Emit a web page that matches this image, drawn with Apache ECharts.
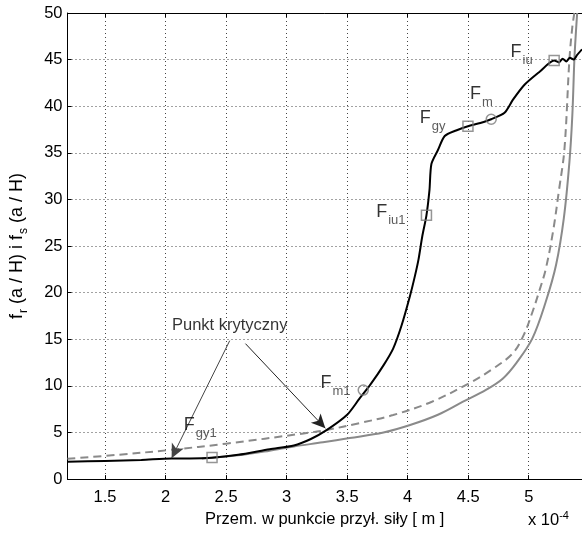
<!DOCTYPE html>
<html>
<head>
<meta charset="utf-8">
<script src="https://cdn.jsdelivr.net/npm/echarts@6/dist/echarts.min.js"></script>
<style>
  html, body { margin: 0; padding: 0; background: #fff; }
  #main { width: 582px; height: 533px; }
</style>
</head>
<body>
<div id="main"></div>
<script>
// x in units of 1e-4 m
let xTicks = [1.5, 2, 2.5, 3, 3.5, 4, 4.5, 5];

// measured curve (black)
let measured = [
  [1.19, 1.85], [1.5, 1.95], [1.8, 2.05], [2.05, 2.22], [2.2, 2.22], [2.38, 2.28],
  [2.6, 2.6], [2.86, 3.2], [3.06, 3.6], [3.2, 4.3], [3.33, 5.25], [3.5, 6.9],
  [3.6, 8.6], [3.69, 10.1], [3.8, 12.2], [3.88, 14.0], [3.95, 16.5], [4.02, 19.7],
  [4.06, 21.8], [4.09, 23.6], [4.12, 26], [4.155, 28.3], [4.18, 31], [4.196, 33.8],
  [4.25, 35.3], [4.306, 36.8], [4.4, 37.4], [4.498, 37.85], [4.6, 38.2], [4.69, 38.6],
  [4.8, 39.3], [4.87, 40.7], [4.965, 42.3], [5.09, 43.7], [5.21, 44.9], [5.25, 44.7],
  [5.28, 45.1], [5.31, 44.8], [5.34, 45.2], [5.37, 45.0], [5.40, 45.5], [5.44, 46.1]
];

// f_r (gray solid)
let fr = [
  [2.3, 2.2], [2.6, 2.55], [2.86, 3.05], [3.06, 3.5], [3.3, 3.95], [3.52, 4.4],
  [3.8, 5.0], [4.02, 5.8], [4.25, 6.9], [4.457, 8.3], [4.65, 9.6], [4.787, 10.8],
  [4.9, 12.5], [5.03, 15.1], [5.14, 19], [5.226, 23], [5.29, 28], [5.336, 34],
  [5.36, 39], [5.377, 45], [5.39, 48], [5.40, 50]
];

// f_s (gray dashed)
let fs = [
  [1.19, 2.17], [1.6, 2.6], [2.04, 3.13], [2.5, 3.8], [3.14, 4.9], [3.33, 5.27],
  [3.6, 6.0], [3.88, 6.87], [4.2, 8.3], [4.51, 10.3], [4.7, 11.8], [4.869, 13.5],
  [4.96, 15.5], [5.03, 17.9], [5.09, 20.3], [5.14, 22.5], [5.2, 26.5], [5.25, 31],
  [5.295, 35.4], [5.336, 45], [5.36, 48.5], [5.377, 50]
];

// characteristic points
let squarePts = [[2.384, 2.32], [4.155, 28.3], [4.498, 37.85], [5.21, 44.9]];
let circlePts = [[3.633, 9.55], [4.69, 38.6]];

// point labels: [x, y, subscript]
let pointLabels = [
  [2.15, 5.77, 'gy1'], [3.28, 10.26, 'm1'], [3.74, 28.6, 'iu1'],
  [4.10, 38.7, 'gy'], [4.515, 41.3, 'm'], [4.85, 45.8, 'iu']
];

let noteText = 'Punkt krytyczny';
let notePos = [2.53, 16.45];
let arrows = [
  [[2.53, 14.85], [2.05, 2.25]],
  [[2.66, 14.53], [3.32, 5.45]]
];

let font = 'Liberation Sans, Arial, sans-serif';
let fsz = 16.5;
let chart = echarts.init(document.getElementById('main'));

let gridLine = { show: true, lineStyle: { color: '#444', type: [1, 3], width: 1 } };

let option = {
  animation: false,
  textStyle: { fontFamily: font },
  grid: { left: 63, top: 13, right: 0, bottom: 52, containLabel: false },
  xAxis: [{
    type: 'value', min: 1.19, max: 5.44, position: 'bottom',
    axisLine: { lineStyle: { color: '#000', width: 1 } },
    axisTick: { inside: true, length: 4, customValues: xTicks, lineStyle: { color: '#000' } },
    axisLabel: { customValues: xTicks, color: '#000', fontSize: fsz, margin: 10, fontFamily: font },
    splitLine: gridLine,
    name: 'Przem. w punkcie przył. siły [ m ]',
    nameLocation: 'middle', nameGap: 22,
    nameTextStyle: { color: '#000', fontSize: fsz, fontFamily: font }
  }, {
    type: 'value', min: 1.19, max: 5.44, position: 'top',
    axisLine: { show: true, lineStyle: { color: '#000', width: 1 } },
    axisTick: { inside: true, length: 4, customValues: xTicks, lineStyle: { color: '#000' } },
    axisLabel: { show: false },
    splitLine: { show: false }
  }],
  yAxis: {
    type: 'value', min: 0, max: 50, interval: 5,
    axisLine: { show: true, lineStyle: { color: '#000', width: 1 } },
    axisTick: { show: true, inside: true, length: 4, lineStyle: { color: '#000' } },
    axisLabel: { color: '#000', fontSize: fsz, margin: 5, fontFamily: font },
    splitLine: gridLine,
    name: '{n|f}{s|r}{n| (a / H) i }{n|f}{s|s}{n| (a / H)}',
    nameLocation: 'middle', nameRotate: 90, nameGap: 38,
    nameTextStyle: {
      color: '#000', fontFamily: font,
      rich: {
        n: { fontSize: 18, color: '#000', fontFamily: font },
        s: { fontSize: 12, color: '#000', fontFamily: font, padding: [13, 0, 0, 1] }
      }
    }
  },
  graphic: [{
    type: 'text', left: 528, top: 510,
    style: {
      text: '{n|x 10}{p|-4}',
      rich: {
        n: { fontSize: fsz, fill: '#000', fontFamily: font },
        p: { fontSize: 11, fill: '#000', fontFamily: font, padding: [0, 0, 10, 0] }
      }
    }
  }],
  series: [
    {
      type: 'line', data: fr, showSymbol: false, clip: true, z: 2,
      smooth: 0.35,
      lineStyle: { color: '#8a8a8a', width: 2 }
    },
    {
      type: 'line', data: fs, showSymbol: false, clip: true, z: 2,
      smooth: 0.35,
      lineStyle: { color: '#8a8a8a', width: 2, type: [8, 5] }
    },
    {
      type: 'line', data: measured, showSymbol: false, clip: true, z: 3,
      smooth: 0.25,
      lineStyle: { color: '#000', width: 2 }
    },
    {
      type: 'scatter', data: squarePts, symbol: 'rect', symbolSize: 10, z: 4,
      itemStyle: { color: 'rgba(0,0,0,0)', borderColor: '#7a7a7a', borderWidth: 1.5 }
    },
    {
      type: 'scatter', data: circlePts, symbol: 'circle', symbolSize: 10, z: 4,
      itemStyle: { color: 'rgba(0,0,0,0)', borderColor: '#7a7a7a', borderWidth: 1.5 }
    },
    {
      type: 'scatter', symbolSize: 0, z: 5, silent: true,
      data: pointLabels.map(p => ({ value: [p[0], p[1]], sub: p[2] })),
      label: {
        show: true, position: 'inside', align: 'left',
        formatter: p => '{F|F}{s|' + p.data.sub + '}',
        rich: {
          F: { fontSize: 18, color: '#000', fontFamily: font },
          s: { fontSize: 13, color: '#333', fontFamily: font, padding: [16, 0, 0, 1] }
        }
      }
    },
    {
      type: 'scatter', symbolSize: 0, z: 5, silent: true,
      data: [notePos],
      label: {
        show: true, position: 'inside', formatter: noteText,
        fontSize: fsz, color: '#000', fontFamily: font
      },
      markLine: {
        silent: true, animation: false,
        symbol: ['none', 'arrow'], symbolSize: 10,
        label: { show: false },
        lineStyle: { color: '#222', width: 1, type: 'solid' },
        itemStyle: { color: '#000' },
        data: arrows.map((a, i) => [
          { coord: a[0], symbol: 'none', lineStyle: { color: i === 0 ? '#444' : '#222', width: 1, type: 'solid', curveness: i === 0 ? 0.04 : 0 } },
          { coord: a[1], symbol: 'arrow', symbolSize: [10, 14] }
        ])
      }
    }
  ]
};
chart.setOption(option);
</script>
</body>
</html>
